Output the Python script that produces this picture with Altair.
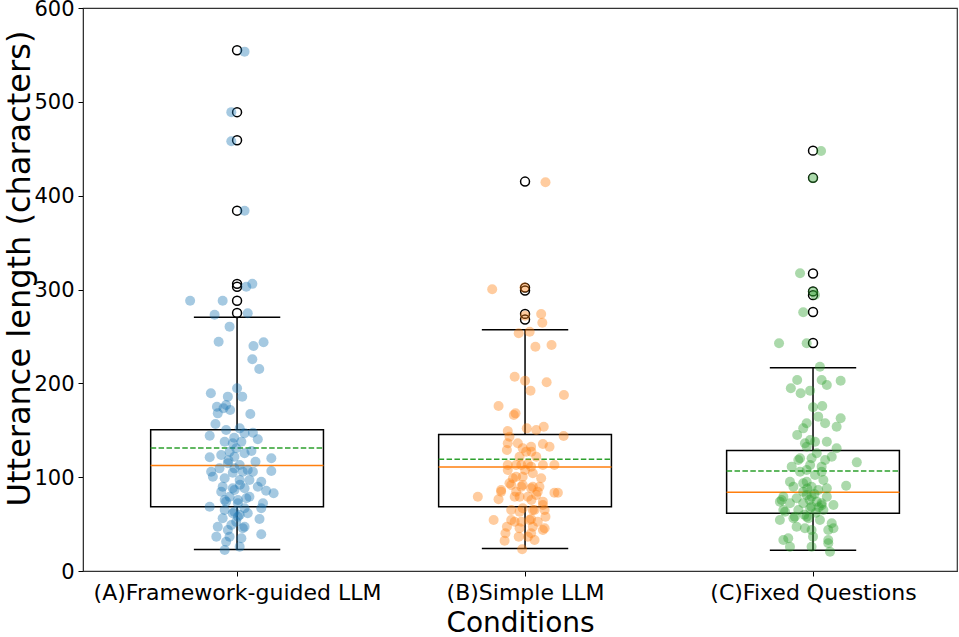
import json
import altair as alt
import pandas as pd

conditions = ["(A)Framework-guided LLM", "(B)Simple LLM", "(C)Fixed Questions"]
positions = [1, 2, 3]
colors = ["#1f77b4", "#ff7f0e", "#2ca02c"]

whisker_low = [23, 24, 22]
q1 = [68.5, 68.5, 61.5]
median = [112.5, 110.8, 84]
mean = [131, 119, 106.5]
q3 = [150.5, 145.5, 128.5]
whisker_high = [270.5, 257, 216.5]

outliers_a = [555, 489, 459, 384, 306, 303, 288, 275]
outliers_b = [415, 302, 299, 274, 268]
outliers_c = [448, 419, 317, 298, 294, 276, 243]

a_values = [553.5, 489, 458, 384, 306, 303, 288, 288, 273, 274.6, 260.4, 244.4, 239.8, 243.7, 225.6,
            215.3, 189.4, 185.8, 194.7, 185.8, 175.1, 173.4, 171.6, 168, 167.3, 156.7, 144.2, 150.3,
            152, 146.8, 147.4, 140.4, 137.8, 136.1, 137.8, 130.8, 127.2, 125.4, 121.2, 123.6, 121.8,
            120.1, 116.5, 114.8, 113, 109.4, 107.6, 106.6, 105.8, 104.8, 105.8, 100.5, 98.8, 97, 95.2,
            89.8, 88.1, 88.1, 89.8, 85.6, 82.8, 84.5, 79.2, 79.2, 72.2, 68.5, 73.9, 72.2, 66.8, 65,
            61.5, 59.7, 61.5, 56.2, 55.4, 52.5, 47.2, 43.7, 45.5, 36.6, 36.6, 39.1, 34.9, 31.2, 25.9, 22.4,
            176.9, 109.4, 105.8, 97, 86.3, 75.7, 75.7, 77.5, 63.2, 66.8, 57.9, 49, 47.2, 118, 92, 128, 142]
a_jitter = [0.026, -0.02, -0.02, 0.026, 0.053, 0.032, -0.163, -0.05, -0.078, 0.037, -0.026, -0.064, 0.057,
            0.092, 0.053, 0.077, -0.091, -0.032, 0.0, 0.018, -0.07, -0.047, -0.024, -0.067, 0.046, -0.075,
            -0.095, -0.038, 0.009, 0.026, 0.055, 0.072, -0.043, -0.015, 0.015, -0.003, -0.026, 0.026,
            -0.095, -0.055, -0.009, 0.119, 0.064, -0.032, 0.009, -0.061, 0.037, 0.119, -0.09, -0.015,
            0.055, -0.084, -0.043, 0.009, 0.084, -0.05, -0.015, 0.026, 0.072, 0.101, 0.127, -0.055,
            -0.026, 0.043, 0.09, -0.095, -0.038, 0.003, 0.026, -0.043, -0.015, 0.009, 0.037, -0.05,
            0.078, -0.003, -0.067, -0.032, 0.02, -0.072, -0.026, 0.084, 0.015, -0.038, 0.009, -0.043,
            -0.038, -0.009, 0.02, 0.043, -0.009, -0.043, 0.003, 0.032, -0.009, 0.084, 0.003, -0.02, 0.026,
            -0.03, 0.01, 0.05, -0.01]

b_values = [414.3, 300.2, 302, 273.9, 264.6, 272, 253.3, 255, 239, 240.9, 207.1, 202.8, 201.1, 192.2,
            187.6, 175.9, 166.3, 168, 149.2, 152, 150.3, 153.8, 143.9, 143.1, 136.1, 135.4, 132.5, 129,
            130.8, 127.2, 121.8, 121.8, 113, 113, 114, 113, 113, 107.6, 107.6, 104.1, 98.8, 100.5, 93.5,
            91.7, 89.8, 84.5, 84.5, 84.5, 79.2, 76.4, 79.2, 83.4, 83.4, 75.7, 70.3, 65, 63.2, 65, 57.9,
            54.4, 52.5, 54.4, 52.5, 47.2, 45.5, 43.7, 36.6, 40.2, 36.6, 32.3, 33, 23.1,
            136.1, 132.5, 127.2, 113, 111.2, 98.8, 100.5, 86.3, 91.7, 89.8, 88.1, 89.8, 79.2, 79.2, 81,
            73.9, 66.8, 65, 65, 54.4, 52.5, 55.4, 47.2, 45.5, 40.2]
b_jitter = [0.071, -0.114, -0.002, 0.056, 0.06, 0.0, -0.022, 0.016, 0.036, 0.092, -0.036, 0.0, 0.075,
            0.019, 0.135, -0.092, -0.039, -0.033, -0.06, 0.006, 0.039, 0.065, 0.134, -0.054, -0.025,
            0.062, 0.085, -0.063, -0.008, 0.022, -0.019, 0.039, -0.06, -0.031, 0.01, 0.062, 0.102, -0.06,
            0.0, 0.027, 0.056, -0.031, -0.054, -0.008, 0.027, -0.083, -0.031, 0.044, -0.164, -0.092,
            -0.019, 0.102, 0.114, 0.022, 0.062, -0.048, -0.019, 0.027, 0.071, -0.109, -0.036, 0.016,
            0.044, -0.063, -0.019, 0.062, 0.01, -0.068, -0.022, -0.071, 0.033, -0.01,
            -0.06, 0.021, 0.004, -0.013, 0.021, -0.042, -0.008, -0.083, -0.048, -0.013, 0.021, 0.05,
            -0.036, 0.01, 0.039, 0.062, -0.008, 0.033, 0.068, -0.048, -0.013, 0.021, 0.027, 0.068, 0.021]

c_values = [447.6, 418.5, 317.3, 297.7, 294.1, 275.7, 242.7, 242.7, 217.7, 203.6, 203.6, 202.8, 194.7,
            189.4, 192.2, 198.2, 174.5, 175.9, 162.7, 164.5, 157.4, 157.4, 153.8, 152, 144.9, 139.6,
            137.8, 130.8, 132.5, 125.4, 120.1, 121.8, 115.8, 111.2, 113, 111.2, 105.8, 102.3, 95.2, 95.2,
            97, 90.9, 89.8, 89.8, 86.3, 84.5, 79.2, 77.5, 79.2, 79.2, 73.9, 72.2, 72.2, 73.9, 70.3, 65,
            65, 66.8, 65, 54.4, 56.2, 57.9, 54.4, 50.8, 47.2, 43.7, 43.7, 45.5, 36.6, 33, 34.9, 33, 25.9,
            25.9, 20.6, 82, 76, 68, 62, 88, 60, 70,
            136.1, 137.8, 118.3, 120.1, 118.3, 107.6, 105.8, 93.5, 88.1, 75.7, 81, 63.2, 68.5, 72.2,
            57.9, 56.2, 45.5, 29.5]
c_jitter = [0.028, 0.0, -0.045, 0.0, 0.007, -0.034, -0.118, -0.022, 0.024, -0.055, 0.03, 0.096, -0.077,
            -0.043, -0.01, 0.048, 0.0, 0.032, 0.096, 0.018, -0.022, 0.042, 0.082, -0.034, -0.055, -0.01,
            0.048, 0.082, -0.022, 0.013, -0.045, 0.065, 0.152, -0.074, -0.01, 0.03, -0.045, 0.007, -0.08,
            -0.022, 0.036, 0.115, -0.068, -0.005, 0.018, -0.034, -0.103, -0.057, -0.005, 0.048, -0.115,
            -0.08, -0.034, 0.013, 0.071, -0.103, -0.051, -0.01, 0.036, -0.115, -0.068, -0.022, 0.024,
            0.065, -0.057, -0.005, 0.053, 0.071, 0.0, -0.103, -0.086, 0.053, -0.08, -0.005, 0.059,
            0.005, -0.012, 0.02, 0.01, -0.02, -0.03, 0.03,
            -0.028, 0.007, -0.051, -0.005, 0.042, -0.022, 0.03, -0.034, 0.048, -0.109, -0.022, -0.097,
            -0.005, 0.03, -0.063, -0.016, -0.028, 0.053]

BOX_HALF = 0.3
CAP_HALF = 0.15

stats = pd.DataFrame({
    "cond": conditions, "pos": positions,
    "low": whisker_low, "q1": q1, "median": median, "mean": mean, "q3": q3, "high": whisker_high,
})
stats["left"] = stats["pos"] - BOX_HALF
stats["right"] = stats["pos"] + BOX_HALF
stats["capl"] = stats["pos"] - CAP_HALF
stats["capr"] = stats["pos"] + CAP_HALF

out_rows = []
for p, vals in zip(positions, [outliers_a, outliers_b, outliers_c]):
    for v in vals:
        out_rows.append({"pos": p, "value": v})
outliers = pd.DataFrame(out_rows)

pt_rows = []
for p, c, vals, jit in zip(positions, conditions, [a_values, b_values, c_values], [a_jitter, b_jitter, c_jitter]):
    for v, j in zip(vals, jit):
        pt_rows.append({"cond": c, "x": p + j, "value": v})
points = pd.DataFrame(pt_rows)

label_expr = "datum.value == 1 ? " + json.dumps(conditions[0]) + " : (datum.value == 2 ? " + \
    json.dumps(conditions[1]) + " : (datum.value == 3 ? " + json.dumps(conditions[2]) + " : ''))"

xscale = alt.Scale(domain=[0.465, 3.5], nice=False, zero=False)
yscale = alt.Scale(domain=[0, 600], nice=False, zero=True)

x_axis = alt.Axis(values=[1, 2, 3], labelExpr=label_expr, title="Conditions", grid=False,
                  labelFont="DejaVu Sans", labelFontSize=22, labelColor="black", labelPadding=6,
                  labelLimit=0, labelFlush=False, labelOverlap=False,
                  titleFont="DejaVu Sans", titleFontSize=28, titleFontWeight="normal", titleColor="black",
                  titlePadding=6, tickSize=5, tickColor="black", domainColor="#333")
y_axis = alt.Axis(values=[0, 100, 200, 300, 400, 500, 600], title="Utterance length (characters)", grid=False,
                  labelFont="DejaVu Sans", labelFontSize=21, labelColor="black", labelPadding=4,
                  labelOffset=1,
                  titleFont="DejaVu Sans", titleFontSize=32, titleFontWeight="normal", titleColor="black",
                  titleX=-47, titleY=260, titleAngle=270, titleAlign="center", titleBaseline="bottom",
                  tickSize=5, tickColor="black", domainColor="#333")

base_stats = alt.Chart(stats)

boxes = base_stats.mark_rect(fillOpacity=0, stroke="black", strokeWidth=1.5).encode(
    x=alt.X("left:Q", scale=xscale, axis=x_axis), x2="right:Q",
    y=alt.Y("q1:Q", scale=yscale, axis=y_axis), y2="q3:Q")
whisk_lo = base_stats.mark_rule(color="black", strokeWidth=1.5).encode(
    x=alt.X("pos:Q", scale=xscale), y=alt.Y("low:Q", scale=yscale), y2="q1:Q")
whisk_hi = base_stats.mark_rule(color="black", strokeWidth=1.5).encode(
    x=alt.X("pos:Q", scale=xscale), y=alt.Y("q3:Q", scale=yscale), y2="high:Q")
cap_lo = base_stats.mark_rule(color="black", strokeWidth=1.5).encode(
    x=alt.X("capl:Q", scale=xscale), x2="capr:Q", y=alt.Y("low:Q", scale=yscale))
cap_hi = base_stats.mark_rule(color="black", strokeWidth=1.5).encode(
    x=alt.X("capl:Q", scale=xscale), x2="capr:Q", y=alt.Y("high:Q", scale=yscale))
med = base_stats.mark_rule(color="#ff7f0e", strokeWidth=1.5).encode(
    x=alt.X("left:Q", scale=xscale), x2="right:Q", y=alt.Y("median:Q", scale=yscale))
mn = base_stats.mark_rule(color="#2ca02c", strokeWidth=1.5, strokeDash=[5.5, 2.4]).encode(
    x=alt.X("left:Q", scale=xscale), x2="right:Q", y=alt.Y("mean:Q", scale=yscale))

outl = alt.Chart(outliers).mark_point(shape="circle", filled=False, stroke="black", strokeWidth=1.5,
                                       size=80, opacity=1).encode(
    x=alt.X("pos:Q", scale=xscale), y=alt.Y("value:Q", scale=yscale))

pts = alt.Chart(points).mark_circle(size=100, opacity=0.4).encode(
    x=alt.X("x:Q", scale=xscale), y=alt.Y("value:Q", scale=yscale),
    color=alt.Color("cond:N", scale=alt.Scale(domain=conditions, range=colors), legend=None))

chart = alt.layer(boxes, whisk_lo, whisk_hi, cap_lo, cap_hi, med, mn, outl, pts).properties(
    width=874, height=563,
    autosize=alt.AutoSizeParams(type="none"),
    padding={"left": 83, "top": 8, "right": 2, "bottom": 66},
    background="white",
).configure_view(stroke="#333", strokeWidth=1.2)

chart.save("out.html", embed_options={"renderer": "svg", "actions": False})
